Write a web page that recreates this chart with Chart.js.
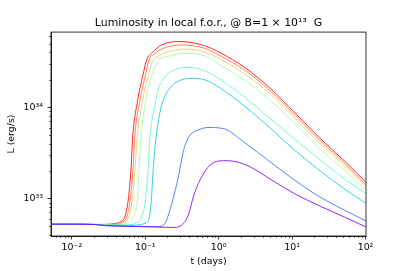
<!DOCTYPE html>
<html>
<head>
<meta charset="utf-8">
<script src="https://cdn.jsdelivr.net/npm/chart.js@4.4.1/dist/chart.umd.min.js"></script>
<style>
  html, body { margin: 0; padding: 0; background: #fff; }
  #chart { display: block; }
</style>
</head>
<body>
<canvas id="chart" width="407" height="271"></canvas>
<script>
// t (days), L (erg/s), one list per curve (purple -> red)
const curve0 = [[0.005, 5.2e32], [0.01, 5.2e32], [0.02, 5.17e32], [0.0282, 5.02e32], [0.0847, 4.9e32], [0.254, 4.8e32],
  [0.314, 5.09e32], [0.386, 6.55e32], [0.452, 1.04e33], [0.557, 1.59e33], [0.763, 2.32e33], [1.16, 2.59e33],
  [1.67, 2.54e33], [2.68, 2.22e33], [5.02, 1.63e33], [11.0, 1.115e33], [24.2, 8.2e32], [53, 6.17e32], [100, 4.87e32]];
const curve1 = [[0.005, 5.2e32], [0.01, 5.2e32], [0.02, 5.17e32], [0.0282, 5.02e32], [0.0847, 4.92e32], [0.159, 4.9e32],
  [0.186, 5.35e32], [0.217, 7.44e32], [0.254, 1.2e33], [0.282, 1.7e33], [0.33, 3.3e33], [0.37, 4.3e33], [0.407, 4.96e33],
  [0.524, 5.63e33], [0.717, 6.0e33], [1.15, 5.85e33], [2.29, 4.05e33], [5.02, 2.52e33], [11.0, 1.57e33],
  [24.2, 1.03e33], [53, 7.34e32], [100, 5.67e32]];
const curve2 = [[0.005, 5.2e32], [0.01, 5.2e32], [0.02, 5.17e32], [0.0282, 5.09e32], [0.0618, 5.06e32], [0.1045, 5.42e32],
  [0.114, 6.28e32], [0.121, 9.58e32], [0.128, 2.05e33], [0.14, 4.6e33], [0.161, 9.34e33], [0.186, 1.33e34],
  [0.217, 1.63e34], [0.268, 1.9e34], [0.434, 2.08e34], [0.652, 2.0e34], [1.045, 1.63e34], [2.29, 1.02e34],
  [5.02, 5.92e33], [11.0, 3.35e33], [24.2, 2.0e33], [53, 1.25e33], [100, 8.88e32]];
const curve3 = [[0.005, 5.2e32], [0.01, 5.2e32], [0.02, 5.17e32], [0.0282, 5.11e32], [0.0528, 5.1e32], [0.0746, 5.33e32],
  [0.0887, 6.23e32], [0.1006, 9.58e32], [0.1088, 2.05e33], [0.1159, 4.72e33], [0.1314, 9.34e33], [0.1504, 1.59e34],
  [0.18, 2.1e34], [0.217, 2.44e34], [0.382, 2.75e34], [0.652, 2.51e34], [1.045, 2.03e34], [2.29, 1.28e34],
  [5.02, 7.53e33], [11.0, 4.43e33], [24.2, 2.64e33], [53, 1.61e33], [100, 1.135e33]];
const curve4 = [[0.005, 5.2e32], [0.01, 5.2e32], [0.02, 5.17e32], [0.0282, 5.14e32], [0.0386, 5.14e32], [0.0546, 5.35e32],
  [0.068, 6.23e32], [0.0783, 9.58e32], [0.0821, 2.05e33], [0.0874, 4.72e33], [0.1022, 1.2e34], [0.1196, 2.1e34],
  [0.1504, 3.27e34], [0.198, 3.61e34], [0.382, 3.92e34], [0.652, 3.66e34], [1.045, 2.92e34], [2.29, 1.97e34],
  [5.02, 1.19e34], [11.0, 6.64e33], [24.2, 3.48e33], [53, 2.0e33], [100, 1.26e33]];
const curve5 = [[0.005, 5.2e32], [0.01, 5.2e32], [0.02, 5.17e32], [0.0282, 5.15e32], [0.0386, 5.18e32], [0.0497, 5.39e32],
  [0.06, 6.31e32], [0.0665, 9.58e32], [0.0724, 2.05e33], [0.0778, 4.72e33], [0.0921, 1.2e34], [0.1106, 2.26e34],
  [0.1254, 3.15e34], [0.149, 3.61e34], [0.192, 4.0e34], [0.348, 4.37e34], [0.652, 4.04e34], [1.045, 3.37e34],
  [2.29, 2.31e34], [5.02, 1.4e34], [11.0, 7.53e33], [24.2, 3.95e33], [53, 2.22e33], [100, 1.36e33]];
const curve6 = [[0.005, 5.2e32], [0.01, 5.2e32], [0.02, 5.17e32], [0.0282, 5.16e32], [0.0386, 5.22e32], [0.0466, 5.42e32],
  [0.0562, 6.31e32], [0.0622, 9.58e32], [0.068, 2.05e33], [0.0719, 4.72e33], [0.0847, 1.2e34], [0.1006, 2.26e34],
  [0.1123, 3.31e34], [0.1378, 3.95e34], [0.1744, 4.43e34], [0.317, 4.84e34], [0.652, 4.43e34], [1.045, 3.69e34],
  [2.29, 2.54e34], [5.02, 1.52e34], [11.0, 8.13e33], [24.2, 4.26e33], [53, 2.38e33], [100, 1.43e33]];
const curve7 = [[0.005, 5.2e32], [0.01, 5.2e32], [0.02, 5.17e32], [0.0282, 5.18e32], [0.0386, 5.28e32], [0.0452, 5.49e32],
  [0.0528, 6.31e32], [0.0586, 9.58e32], [0.0638, 2.05e33], [0.0675, 4.72e33], [0.0788, 1.2e34], [0.093, 2.26e34],
  [0.1045, 3.31e34], [0.127, 4.05e34], [0.1675, 4.84e34], [0.297, 5.28e34], [0.652, 4.73e34], [1.045, 3.98e34],
  [2.29, 2.72e34], [5.02, 1.62e34], [11.0, 8.66e33], [24.2, 4.54e33], [53, 2.52e33], [100, 1.52e33]];

const curves = [curve0, curve1, curve2, curve3, curve4, curve5, curve6, curve7];
// matplotlib "rainbow" colormap sampled at 8 points
const colors = ['128,0,255', '55,111,249', '18,199,230', '91,249,199', '164,249,159', '237,199,111', '255,111,57', '255,0,0'];

const xTicks = [0.01, 0.1, 1, 10, 100];
const yTicks = [1e33, 1e34];

const SUP = { '-': '⁻', '0': '⁰', '1': '¹', '2': '²', '3': '³', '4': '⁴', '5': '⁵', '6': '⁶', '7': '⁷', '8': '⁸', '9': '⁹' };
function powLabel(v) {
  const e = String(Math.round(Math.log10(v)));
  return '10' + e.split('').map(c => SUP[c]).join('');
}

// frame + minor log ticks, drawn through the chart's own scales
const framePlugin = {
  id: 'frame',
  afterDraw(chart) {
    const { ctx, chartArea: a, scales } = chart;
    ctx.save();
    ctx.strokeStyle = '#000';
    ctx.lineWidth = 0.8;
    ctx.strokeRect(a.left, a.top, a.right - a.left, a.bottom - a.top);
    ctx.lineWidth = 0.6;
    ctx.beginPath();
    for (let n = -3; n <= 2; n++) {
      for (let k = 2; k <= 9; k++) {
        const v = k * Math.pow(10, n);
        if (v <= scales.x.min || v >= scales.x.max) continue;
        const px = Math.round(scales.x.getPixelForValue(v)) + 0.5;
        ctx.moveTo(px, a.bottom);
        ctx.lineTo(px, a.bottom + 2);
      }
    }
    for (let n = 32; n <= 34; n++) {
      for (let k = 2; k <= 9; k++) {
        const v = k * Math.pow(10, n);
        if (v <= scales.y.min || v >= scales.y.max) continue;
        const py = Math.round(scales.y.getPixelForValue(v)) + 0.5;
        ctx.moveTo(a.left, py);
        ctx.lineTo(a.left - 2, py);
      }
    }
    ctx.stroke();
    ctx.restore();
  }
};

const font = { family: 'DejaVu Sans', size: 9.4 };

new Chart(document.getElementById('chart'), {
  type: 'line',
  data: {
    datasets: curves.map((c, i) => ({
      data: c.map(p => ({ x: p[0], y: p[1] })),
      borderColor: 'rgba(' + colors[i] + ',0.85)',
      borderWidth: 1,
      pointRadius: 0,
      fill: false,
      cubicInterpolationMode: 'monotone'
    }))
  },
  options: {
    responsive: false,
    animation: false,
    devicePixelRatio: 1,
    layout: { padding: { left: 0, right: 41, top: 0, bottom: 0 } },
    plugins: {
      legend: { display: false },
      tooltip: { enabled: false },
      title: {
        display: true,
        fullSize: false,
        text: 'Luminosity in local f.o.r., @ B=1 × 10¹³  G',
        color: '#000',
        font: { family: 'DejaVu Sans', size: 10.9, weight: 'normal' },
        padding: { top: 17, bottom: 2 }
      }
    },
    scales: {
      x: {
        type: 'logarithmic',
        min: 0.0052,
        max: 101.5,
        afterBuildTicks: s => { s.ticks = xTicks.map(v => ({ value: v })); },
        afterFit: s => { s.height = 35; },
        ticks: { color: '#000', font, padding: 2.5, maxRotation: 0, autoSkip: false, callback: v => powLabel(v) },
        grid: { drawOnChartArea: false, drawTicks: true, tickLength: 3.5, color: '#000', lineWidth: 0.8 },
        border: { display: true, color: '#000', width: 0.8 },
        title: { display: true, text: 't (days)', color: '#000', font, padding: { top: 0, bottom: 3.7 } }
      },
      y: {
        type: 'logarithmic',
        min: 3.86e32,
        max: 6.7e34,
        afterBuildTicks: s => { s.ticks = yTicks.map(v => ({ value: v })); },
        afterFit: s => { s.width = 51; },
        ticks: { color: '#000', font, padding: 4.5, autoSkip: false, callback: v => powLabel(v) },
        grid: { drawOnChartArea: false, drawTicks: true, tickLength: 3.5, color: '#000', lineWidth: 0.8 },
        border: { display: true, color: '#000', width: 0.8 },
        title: { display: true, text: 'L (erg/s)', color: '#000', font, padding: { top: 6.4, bottom: 0 } }
      }
    }
  },
  plugins: [framePlugin]
});
</script>
</body>
</html>
